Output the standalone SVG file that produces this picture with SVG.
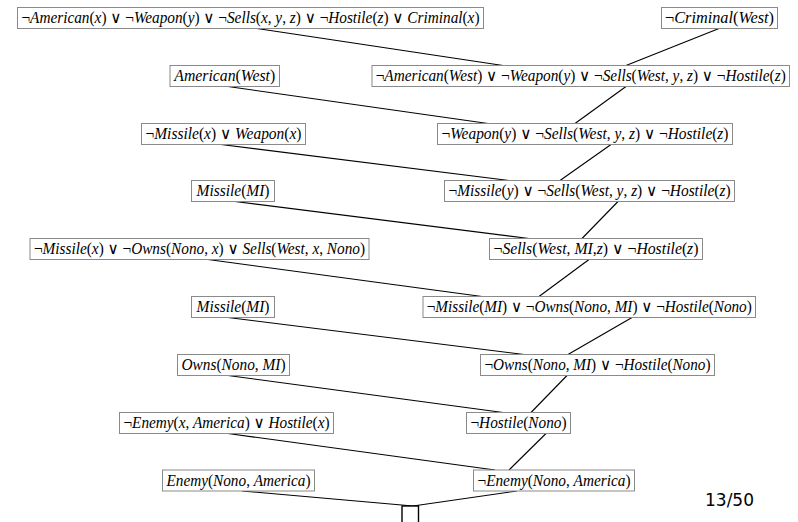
<svg xmlns="http://www.w3.org/2000/svg" width="798" height="522" viewBox="0 0 798 522">
<style>
.bx{fill:#fff;stroke:#8a8a8a;stroke-width:1}
.t{font-family:'Liberation Serif','Times New Roman',Times,'DejaVu Serif',serif;font-size:16px;font-style:italic;text-anchor:middle;fill:#000}
.u{font-style:normal}
.e line{stroke:#000;stroke-width:1.1}
.pg{font-family:'DejaVu Sans','Liberation Sans',sans-serif;font-size:17px;fill:#000}
</style>
<rect width="798" height="522" fill="#fff"/>
<g class="e" id="connectors">
<line x1="257" y1="28.5" x2="503" y2="65.5"/>
<line x1="719" y1="28.5" x2="626" y2="65.5"/>
<line x1="228" y1="86.5" x2="488" y2="123.5"/>
<line x1="626" y1="86.5" x2="575" y2="123.5"/>
<line x1="221" y1="144.5" x2="509" y2="180.5"/>
<line x1="611" y1="144.5" x2="560" y2="180.5"/>
<line x1="235" y1="201.5" x2="529" y2="238.5"/>
<line x1="618" y1="201.5" x2="582" y2="238.5"/>
<line x1="208" y1="259.5" x2="482" y2="296.5"/>
<line x1="589" y1="259.5" x2="539" y2="296.5"/>
<line x1="228" y1="317.5" x2="524" y2="354.5"/>
<line x1="632" y1="317.5" x2="568" y2="354.5"/>
<line x1="228" y1="375.5" x2="503" y2="412.5"/>
<line x1="567" y1="375.5" x2="531" y2="412.5"/>
<line x1="228" y1="433.5" x2="495" y2="470"/>
<line x1="546" y1="433.5" x2="509" y2="470"/>
<line x1="242" y1="491" x2="413" y2="506"/>
<line x1="517" y1="491" x2="413" y2="506"/>
</g>
<g id="n1"><rect class="bx" x="17.5" y="7.5" width="466" height="21"/>
<text class="t" x="250.5" y="23" textLength="458" lengthAdjust="spacingAndGlyphs"><tspan class="u">¬</tspan>American<tspan class="u">(</tspan>x<tspan class="u">) ∨ ¬</tspan>Weapon<tspan class="u">(</tspan>y<tspan class="u">) ∨ ¬</tspan>Sells<tspan class="u">(</tspan>x<tspan class="u">, </tspan>y<tspan class="u">, </tspan>z<tspan class="u">) ∨ ¬</tspan>Hostile<tspan class="u">(</tspan>z<tspan class="u">) ∨ </tspan>Criminal<tspan class="u">(</tspan>x<tspan class="u">)</tspan></text></g>
<g id="n2"><rect class="bx" x="661.5" y="7.5" width="116" height="21"/>
<text class="t" x="719.5" y="23" textLength="109" lengthAdjust="spacingAndGlyphs"><tspan class="u">¬</tspan>Criminal<tspan class="u">(</tspan>West<tspan class="u">)</tspan></text></g>
<g id="n3"><rect class="bx" x="170" y="65.5" width="109.5" height="21"/>
<text class="t" x="224.75" y="81" textLength="101" lengthAdjust="spacingAndGlyphs">American<tspan class="u">(</tspan>West<tspan class="u">)</tspan></text></g>
<g id="n4"><rect class="bx" x="372" y="65.5" width="417.5" height="21"/>
<text class="t" x="580.75" y="81" textLength="410" lengthAdjust="spacingAndGlyphs"><tspan class="u">¬</tspan>American<tspan class="u">(</tspan>West<tspan class="u">) ∨ ¬</tspan>Weapon<tspan class="u">(</tspan>y<tspan class="u">) ∨ ¬</tspan>Sells<tspan class="u">(</tspan>West<tspan class="u">, </tspan>y<tspan class="u">, </tspan>z<tspan class="u">) ∨ ¬</tspan>Hostile<tspan class="u">(</tspan>z<tspan class="u">)</tspan></text></g>
<g id="n5"><rect class="bx" x="141.5" y="123.5" width="164" height="21"/>
<text class="t" x="223.5" y="139" textLength="156" lengthAdjust="spacingAndGlyphs"><tspan class="u">¬</tspan>Missile<tspan class="u">(</tspan>x<tspan class="u">) ∨ </tspan>Weapon<tspan class="u">(</tspan>x<tspan class="u">)</tspan></text></g>
<g id="n6"><rect class="bx" x="437.5" y="123.5" width="295" height="21"/>
<text class="t" x="585" y="139" textLength="287" lengthAdjust="spacingAndGlyphs"><tspan class="u">¬</tspan>Weapon<tspan class="u">(</tspan>y<tspan class="u">) ∨ ¬</tspan>Sells<tspan class="u">(</tspan>West<tspan class="u">, </tspan>y<tspan class="u">, </tspan>z<tspan class="u">) ∨ ¬</tspan>Hostile<tspan class="u">(</tspan>z<tspan class="u">)</tspan></text></g>
<g id="n7"><rect class="bx" x="191.5" y="180.5" width="83" height="21"/>
<text class="t" x="233" y="196" textLength="73" lengthAdjust="spacingAndGlyphs">Missile<tspan class="u">(</tspan>MI<tspan class="u">)</tspan></text></g>
<g id="n8"><rect class="bx" x="444.5" y="180.5" width="290" height="21"/>
<text class="t" x="589.5" y="196" textLength="282" lengthAdjust="spacingAndGlyphs"><tspan class="u">¬</tspan>Missile<tspan class="u">(</tspan>y<tspan class="u">) ∨ ¬</tspan>Sells<tspan class="u">(</tspan>West<tspan class="u">, </tspan>y<tspan class="u">, </tspan>z<tspan class="u">) ∨ ¬</tspan>Hostile<tspan class="u">(</tspan>z<tspan class="u">)</tspan></text></g>
<g id="n9"><rect class="bx" x="30" y="238.5" width="339" height="21"/>
<text class="t" x="199.5" y="254" textLength="331" lengthAdjust="spacingAndGlyphs"><tspan class="u">¬</tspan>Missile<tspan class="u">(</tspan>x<tspan class="u">) ∨ ¬</tspan>Owns<tspan class="u">(</tspan>Nono<tspan class="u">, </tspan>x<tspan class="u">) ∨ </tspan>Sells<tspan class="u">(</tspan>West<tspan class="u">, </tspan>x<tspan class="u">, </tspan>Nono<tspan class="u">)</tspan></text></g>
<g id="n10"><rect class="bx" x="489.5" y="238.5" width="213" height="21"/>
<text class="t" x="596" y="254" textLength="205" lengthAdjust="spacingAndGlyphs"><tspan class="u">¬</tspan>Sells<tspan class="u">(</tspan>West<tspan class="u">, </tspan>MI<tspan class="u">,</tspan>z<tspan class="u">) ∨ ¬</tspan>Hostile<tspan class="u">(</tspan>z<tspan class="u">)</tspan></text></g>
<g id="n11"><rect class="bx" x="191.5" y="296.5" width="83" height="21"/>
<text class="t" x="233" y="312" textLength="73" lengthAdjust="spacingAndGlyphs">Missile<tspan class="u">(</tspan>MI<tspan class="u">)</tspan></text></g>
<g id="n12"><rect class="bx" x="423" y="296.5" width="332.5" height="21"/>
<text class="t" x="589.25" y="312" textLength="325" lengthAdjust="spacingAndGlyphs"><tspan class="u">¬</tspan>Missile<tspan class="u">(</tspan>MI<tspan class="u">) ∨ ¬</tspan>Owns<tspan class="u">(</tspan>Nono<tspan class="u">, </tspan>MI<tspan class="u">) ∨ ¬</tspan>Hostile<tspan class="u">(</tspan>Nono<tspan class="u">)</tspan></text></g>
<g id="n13"><rect class="bx" x="177.5" y="354.5" width="112" height="21"/>
<text class="t" x="233.5" y="370" textLength="104" lengthAdjust="spacingAndGlyphs">Owns<tspan class="u">(</tspan>Nono<tspan class="u">, </tspan>MI<tspan class="u">)</tspan></text></g>
<g id="n14"><rect class="bx" x="480.5" y="354.5" width="234" height="21"/>
<text class="t" x="597.5" y="370" textLength="226" lengthAdjust="spacingAndGlyphs"><tspan class="u">¬</tspan>Owns<tspan class="u">(</tspan>Nono<tspan class="u">, </tspan>MI<tspan class="u">) ∨ ¬</tspan>Hostile<tspan class="u">(</tspan>Nono<tspan class="u">)</tspan></text></g>
<g id="n15"><rect class="bx" x="119.5" y="412.5" width="214" height="21"/>
<text class="t" x="226.5" y="428" textLength="206" lengthAdjust="spacingAndGlyphs"><tspan class="u">¬</tspan>Enemy<tspan class="u">(</tspan>x<tspan class="u">, </tspan>America<tspan class="u">) ∨ </tspan>Hostile<tspan class="u">(</tspan>x<tspan class="u">)</tspan></text></g>
<g id="n16"><rect class="bx" x="466.5" y="412.5" width="104" height="21"/>
<text class="t" x="518.5" y="428" textLength="96" lengthAdjust="spacingAndGlyphs"><tspan class="u">¬</tspan>Hostile<tspan class="u">(</tspan>Nono<tspan class="u">)</tspan></text></g>
<g id="n17"><rect class="bx" x="162.5" y="470" width="152" height="21"/>
<text class="t" x="238.5" y="485.5" textLength="144" lengthAdjust="spacingAndGlyphs">Enemy<tspan class="u">(</tspan>Nono<tspan class="u">, </tspan>America<tspan class="u">)</tspan></text></g>
<g id="n18"><rect class="bx" x="473.5" y="470" width="161" height="21"/>
<text class="t" x="554" y="485.5" textLength="153" lengthAdjust="spacingAndGlyphs"><tspan class="u">¬</tspan>Enemy<tspan class="u">(</tspan>Nono<tspan class="u">, </tspan>America<tspan class="u">)</tspan></text></g>
<g id="n19"><rect x="402" y="506" width="16.5" height="22" fill="#fff" stroke="#000" stroke-width="1.4"/></g>
<text class="pg" x="705" y="506">13/50</text>
</svg>
